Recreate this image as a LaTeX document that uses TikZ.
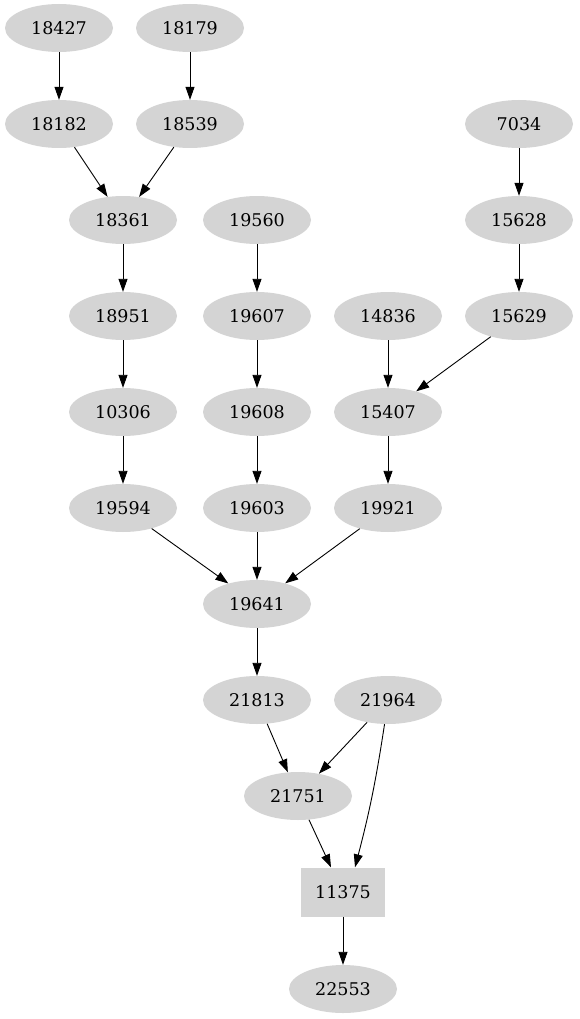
\documentclass[tikz,border=0pt]{standalone}
\usepackage{fontspec}
\setmainfont{DejaVu Serif}
\usetikzlibrary{arrows.meta,shapes.geometric}
\tikzset{
  vert/.style={ellipse, fill=black!17, inner sep=0pt, minimum width=108pt, minimum height=48pt, font=\fontsize{17.5}{20}\selectfont},
  vertbox/.style={rectangle, fill=black!17, inner sep=0pt, minimum width=84pt, minimum height=49pt, font=\fontsize{17.5}{20}\selectfont},
  link/.style={-{Triangle[length=13pt,width=9pt]}, line width=0.9pt}
}
\begin{document}
\begin{tikzpicture}[x=1pt,y=-1pt]
        \useasboundingbox (0,0) rectangle (579,1019);
        % top rows
        \node[vert] (n18427) at (59,28)  {18427};
        \node[vert] (n18179) at (190,28) {18179};
        \node[vert] (n18182) at (59,124) {18182};
        \node[vert] (n18539) at (190,124) {18539};
        \node[vert] (n7034)  at (519,124) {7034};
        \node[vert] (n18361) at (123,220) {18361};
        \node[vert] (n19560) at (257,220) {19560};
        \node[vert] (n15628) at (519,220) {15628};
        \node[vert] (n18951) at (123,316) {18951};
        \node[vert] (n19607) at (257,316) {19607};
        \node[vert] (n14836) at (388,316) {14836};
        \node[vert] (n15629) at (519,316) {15629};
        \node[vert] (n10306) at (123,412) {10306};
        \node[vert] (n19608) at (257,412) {19608};
        \node[vert] (n15407) at (388,412) {15407};
        \node[vert] (n19594) at (123,508) {19594};
        \node[vert] (n19603) at (257,508) {19603};
        \node[vert] (n19921) at (388,508) {19921};
        % lower part
        \node[vert] (n19641) at (257,604) {19641};
        \node[vert] (n21813) at (257,700) {21813};
        \node[vert] (n21964) at (388,700) {21964};
        \node[vert] (n21751) at (298,796) {21751};
        \node[vertbox] (n11375) at (343,892) {11375};
        \node[vert] (n22553) at (343,989) {22553};

        \draw[link] (n18427) -- (n18182);
        \draw[link] (n18179) -- (n18539);
        \draw[link] (n18182) -- (n18361);
        \draw[link] (n18539) -- (n18361);
        \draw[link] (n7034) -- (n15628);
        \draw[link] (n15628) -- (n15629);
        \draw[link] (n18361) -- (n18951);
        \draw[link] (n19560) -- (n19607);
        \draw[link] (n18951) -- (n10306);
        \draw[link] (n19607) -- (n19608);
        \draw[link] (n14836) -- (n15407);
        \draw[link] (n15629) -- (n15407);
        \draw[link] (n10306) -- (n19594);
        \draw[link] (n19608) -- (n19603);
        \draw[link] (n15407) -- (n19921);
        \draw[link] (n19594) -- (n19641);
        \draw[link] (n19603) -- (n19641);
        \draw[link] (n19921) -- (n19641);
        \draw[link] (n19641) -- (n21813);
        \draw[link] (n21813) -- (n21751);
        \draw[link] (n21964) -- (n21751);
        \draw[link] (n21964) to[bend left=3] ([xshift=12pt]n11375.north);
        \draw[link] (n21751) -- ([xshift=-12pt]n11375.north);
        \draw[link] (n11375) -- (n22553);
    \end{tikzpicture}
\end{document}
